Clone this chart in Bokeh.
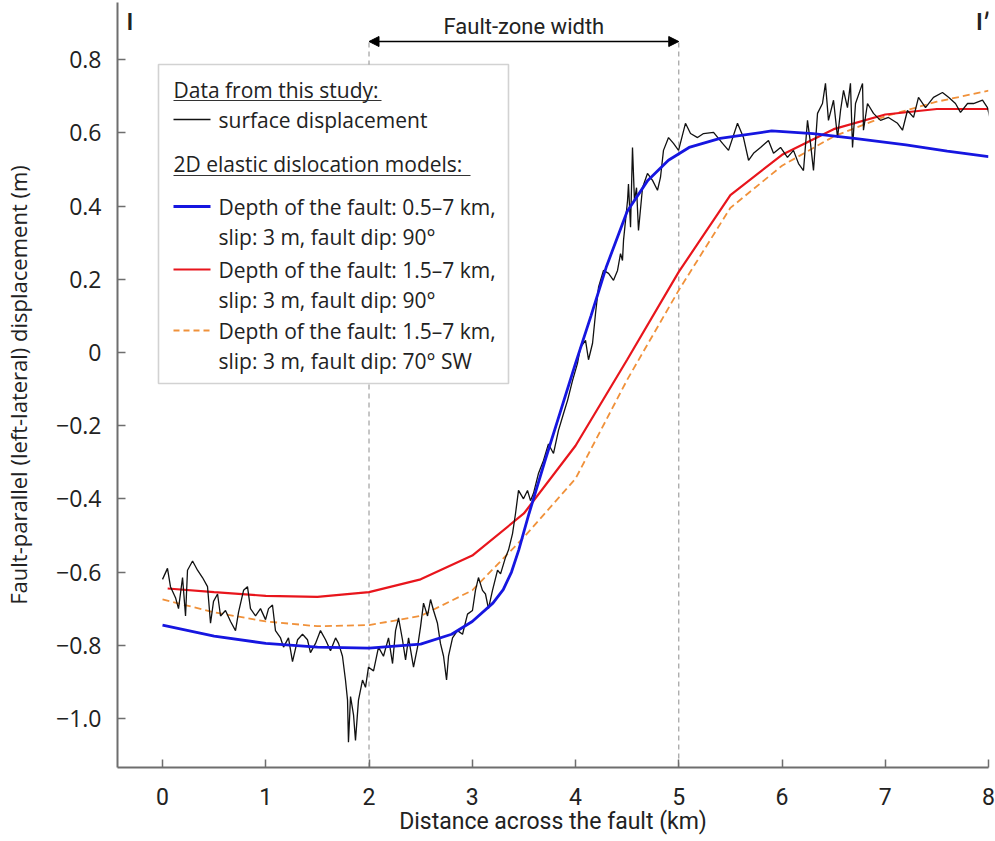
from bokeh.plotting import figure
from bokeh.models import (Range1d, FixedTicker, CustomJSTickFormatter, BoxAnnotation,
                          Arrow, NormalHead, Label)
from bokeh.embed import file_html
from bokeh.resources import INLINE
from bokeh.core.properties import value

# ---------------- data ----------------
surf_x = [0.0, 0.048, 0.077, 0.126, 0.155, 0.194, 0.223, 0.242, 0.291, 0.339,
          0.387, 0.436, 0.465, 0.494, 0.533, 0.562, 0.61, 0.659, 0.707, 0.736,
          0.785, 0.823, 0.852, 0.901, 0.949, 0.998, 1.027, 1.065, 1.094, 1.143,
          1.172, 1.22, 1.259, 1.308, 1.356, 1.404, 1.433, 1.482, 1.53, 1.579,
          1.627, 1.676, 1.705, 1.743, 1.772, 1.792, 1.801, 1.821, 1.85, 1.869,
          1.898, 1.937, 1.966, 1.995, 2.044, 2.092, 2.14, 2.189, 2.228, 2.257,
          2.286, 2.324, 2.354, 2.383, 2.431, 2.47, 2.499, 2.528, 2.567, 2.596,
          2.625, 2.663, 2.692, 2.722, 2.751, 2.77, 2.809, 2.857, 2.906, 2.954,
          3.002, 3.031, 3.06, 3.099, 3.128, 3.157, 3.196, 3.245, 3.274, 3.322,
          3.351, 3.39, 3.419, 3.448, 3.496, 3.535, 3.564, 3.593, 3.642, 3.69,
          3.738, 3.787, 3.835, 3.884, 3.923, 3.971, 4.019, 4.048, 4.097, 4.126,
          4.165, 4.194, 4.223, 4.271, 4.32, 4.368, 4.407, 4.436, 4.455, 4.465,
          4.504, 4.513, 4.533, 4.552, 4.571, 4.591, 4.61, 4.649, 4.697, 4.746,
          4.794, 4.823, 4.852, 4.901, 4.949, 4.998, 5.065, 5.114, 5.182, 5.24,
          5.337, 5.424, 5.482, 5.569, 5.627, 5.676, 5.724, 5.792, 5.869, 5.918,
          5.986, 6.053, 6.111, 6.16, 6.208, 6.247, 6.276, 6.305, 6.344, 6.392,
          6.421, 6.45, 6.499, 6.538, 6.567, 6.596, 6.634, 6.663, 6.683, 6.712,
          6.78, 6.789, 6.828, 6.886, 6.954, 7.031, 7.119, 7.167, 7.215, 7.274,
          7.322, 7.39, 7.467, 7.554, 7.613, 7.68, 7.729, 7.797, 7.855, 7.942,
          7.99, 8.039]
surf_y = [-0.62, -0.59, -0.64, -0.67, -0.70, -0.615, -0.72, -0.595, -0.57, -0.595,
          -0.615, -0.64, -0.74, -0.68, -0.66, -0.72, -0.705, -0.735, -0.76, -0.71,
          -0.65, -0.64, -0.70, -0.72, -0.70, -0.73, -0.70, -0.69, -0.76, -0.78,
          -0.805, -0.78, -0.845, -0.785, -0.77, -0.785, -0.82, -0.795, -0.76, -0.785,
          -0.815, -0.78, -0.795, -0.83, -0.895, -0.95, -1.065, -0.94, -0.99, -1.06,
          -0.95, -0.895, -0.915, -0.86, -0.87, -0.805, -0.83, -0.78, -0.85, -0.76,
          -0.725, -0.785, -0.84, -0.78, -0.86, -0.805, -0.75, -0.685, -0.72, -0.675,
          -0.705, -0.74, -0.795, -0.83, -0.895, -0.83, -0.78, -0.76, -0.77, -0.715,
          -0.705, -0.65, -0.615, -0.65, -0.66, -0.70, -0.65, -0.595, -0.605, -0.56,
          -0.54, -0.495, -0.44, -0.377, -0.40, -0.377, -0.405, -0.385, -0.33, -0.295,
          -0.25, -0.276, -0.213, -0.167, -0.131, -0.077, -0.03, 0.014, 0.033, -0.02,
          0.025, 0.107, 0.178, 0.224, 0.216, 0.197, 0.224, 0.27, 0.251, 0.306,
          0.415, 0.46, 0.342, 0.56, 0.415, 0.45, 0.333, 0.45, 0.489, 0.47,
          0.443, 0.478, 0.552, 0.587, 0.571, 0.552, 0.626, 0.598, 0.587, 0.598,
          0.601, 0.571, 0.552, 0.626, 0.587, 0.525, 0.544, 0.56, 0.579, 0.544,
          0.56, 0.533, 0.552, 0.516, 0.497, 0.634, 0.571, 0.497, 0.653, 0.68,
          0.735, 0.634, 0.689, 0.587, 0.661, 0.716, 0.669, 0.735, 0.56, 0.68,
          0.735, 0.607, 0.68, 0.653, 0.634, 0.642, 0.626, 0.607, 0.661, 0.642,
          0.697, 0.669, 0.697, 0.71, 0.697, 0.68, 0.656, 0.68, 0.68, 0.689,
          0.669, 0.612]

blue_x = [0.0, 0.5, 1.0, 1.5, 2.0, 2.5, 2.8, 3.0, 3.2, 3.3, 3.38, 3.45, 3.55, 3.7,
          3.85, 4.0, 4.15, 4.3, 4.5, 4.7, 4.9, 5.1, 5.4, 5.9, 6.3, 6.7, 7.2, 7.6, 8.0]
blue_y = [-0.745, -0.775, -0.795, -0.805, -0.808, -0.797, -0.77, -0.735, -0.685,
          -0.648, -0.60, -0.54, -0.44, -0.30, -0.165, -0.03, 0.10, 0.235, 0.385,
          0.47, 0.525, 0.56, 0.585, 0.605, 0.598, 0.585, 0.567, 0.55, 0.535]

model_x = [0.0, 0.5, 1.0, 1.5, 2.0, 2.5, 3.0, 3.5, 4.0, 4.5, 5.0, 5.5, 6.0, 6.5,
           7.0, 7.5, 8.0]
red_x = [0.05] + model_x[1:]
red_y = [-0.645, -0.655, -0.665, -0.668, -0.655, -0.62, -0.555, -0.44, -0.255,
         -0.02, 0.22, 0.43, 0.54, 0.61, 0.65, 0.665, 0.665]
orange_y = [-0.675, -0.71, -0.735, -0.748, -0.745, -0.72, -0.65, -0.505, -0.345,
            -0.075, 0.17, 0.395, 0.51, 0.59, 0.645, 0.685, 0.715]

x_ticks = [0, 1, 2, 3, 4, 5, 6, 7, 8]
y_ticks = [-1.0, -0.8, -0.6, -0.4, -0.2, 0.0, 0.2, 0.4, 0.6, 0.8]
zone_start, zone_end = 2, 5

BLUE = "#1616e0"
RED = "#e8151c"
ORANGE = "#f0913a"
AXIS = "#6e6e6e"
TXT = "#222222"
FONT = "Open Sans"
XFONT = "Roboto"

X0, X1 = -0.436, 8.0
Y0, Y1 = -1.134, 0.956

p = figure(width=995, height=841, output_backend="svg", toolbar_location=None,
           x_range=Range1d(X0, X1), y_range=Range1d(Y0, Y1),
           min_border_left=117, min_border_right=7, min_border_top=2,
           min_border_bottom=74)
p.outline_line_color = None
p.grid.visible = False
p.background_fill_color = "white"

# layout helpers (pixel -> data), used only to place legend/annotations
def sx(px):
    return X0 + (px - 117) * (X1 - X0) / 871.0

def sy(py):
    return Y1 - (py - 2) * (Y1 - Y0) / 765.0

# axes
for ax in (p.xaxis[0], p.yaxis[0]):
    ax.axis_line_color = AXIS
    ax.axis_line_width = 2
    ax.major_tick_line_color = AXIS
    ax.major_tick_line_width = 1.5
    ax.major_tick_in = 8
    ax.major_tick_out = 0
    ax.minor_tick_line_color = None
    ax.major_label_text_color = TXT
    ax.axis_label_text_color = TXT
    ax.axis_label_text_font_style = "normal"

p.xaxis.ticker = FixedTicker(ticks=x_ticks)
p.xaxis.major_label_text_font = XFONT
p.xaxis.major_label_text_font_size = "23px"
p.xaxis.major_label_standoff = 20
p.xaxis.axis_label = "Distance across the fault (km)"
p.xaxis.axis_label_text_font = XFONT
p.xaxis.axis_label_text_font_size = "23px"
p.xaxis.axis_label_standoff = 0

p.yaxis.ticker = FixedTicker(ticks=y_ticks)
p.yaxis.formatter = CustomJSTickFormatter(code="""
    if (Math.abs(tick) < 1e-9) { return "0"; }
    const s = Math.abs(tick).toFixed(1);
    return (tick < 0 ? "\u2212" : "") + s;
""")
p.yaxis.major_label_text_font = FONT
p.yaxis.major_label_text_font_size = "23px"
p.yaxis.major_label_standoff = 16
p.yaxis.axis_label = "Fault-parallel (left-lateral) displacement (m)"
p.yaxis.axis_label_text_font = FONT
p.yaxis.axis_label_text_font_size = "22px"
p.yaxis.axis_label_standoff = 20

# fault-zone dashed lines
arrow_y = sy(41)
p.segment(x0=[zone_start, zone_end], y0=[Y0, Y0], x1=[zone_start, zone_end],
          y1=[arrow_y, arrow_y], line_color="#a0a0a0", line_width=1.2,
          line_dash="5 4")

# data
p.line(model_x, orange_y, line_color=ORANGE, line_width=1.8, line_dash="7 4")
p.line(red_x, red_y, line_color=RED, line_width=2.2)
p.line(surf_x, surf_y, line_color="#111111", line_width=1.3)
p.line(blue_x, blue_y, line_color=BLUE, line_width=2.8)

# fault-zone arrow + label
p.add_layout(Arrow(start=NormalHead(size=10, fill_color="black", line_color="black"),
                   end=NormalHead(size=10, fill_color="black", line_color="black"),
                   x_start=zone_start, x_end=zone_end, y_start=arrow_y, y_end=arrow_y,
                   line_width=1.6, line_color="black"))
p.add_layout(Label(x=(zone_start + zone_end) / 2, y=sy(26), text="Fault-zone width",
                   text_align="center", text_baseline="middle", text_font=XFONT,
                   text_font_size="22px", text_color=TXT))
p.add_layout(Label(x=sx(126), y=sy(20), text="I", text_align="left",
                   text_baseline="middle", text_font="Lato", text_font_style="bold",
                   text_font_size="23px", text_color=TXT))
p.add_layout(Label(x=sx(990), y=sy(20), text="I\u2032", text_align="right",
                   text_baseline="middle", text_font="Lato", text_font_style="bold",
                   text_font_size="23px", text_color=TXT))

# legend box
p.add_layout(BoxAnnotation(left=sx(158), right=sx(508), top=sy(64), bottom=sy(383),
                           fill_color="white", fill_alpha=1.0, line_color="#6a6a6a",
                           line_width=1.6))

def legend_text(px, py, txt):
    r = p.text(x=[sx(px)], y=[sy(py)], text=[txt], text_font=value(FONT),
               text_font_size="21px", text_align="left", text_baseline="middle",
               text_color=TXT)
    r.level = "overlay"

def legend_line(py, color, width, dash="solid", px0=173, px1=210):
    r = p.line([sx(px0), sx(px1)], [sy(py), sy(py)], line_color=color,
               line_width=width, line_dash=dash)
    r.level = "overlay"

legend_text(173, 89, "Data from this study:")
legend_line(100, "#333333", 1.2, px0=173, px1=381)
legend_line(119, "#111111", 1.3)
legend_text(218, 119, "surface displacement")
legend_text(173, 163, "2D elastic dislocation models:")
legend_line(175, "#333333", 1.2, px0=173, px1=470)
legend_line(206, BLUE, 2.8)
legend_text(218, 206, "Depth of the fault: 0.5\u20137 km,")
legend_text(218, 236, "slip: 3 m, fault dip: 90\u00b0")
legend_line(269, RED, 2.2)
legend_text(218, 269, "Depth of the fault: 1.5\u20137 km,")
legend_text(218, 299, "slip: 3 m, fault dip: 90\u00b0")
legend_line(330, ORANGE, 1.8, "6 4")
legend_text(218, 330, "Depth of the fault: 1.5\u20137 km,")
legend_text(218, 360, "slip: 3 m, fault dip: 70\u00b0 SW")

open("out.html", "w").write(file_html(p, INLINE))
